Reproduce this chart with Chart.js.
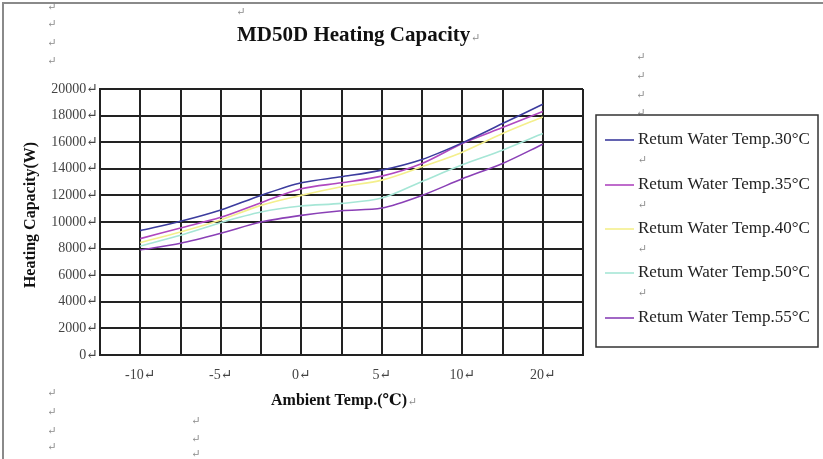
<!DOCTYPE html>
<html>
<head>
<meta charset="utf-8">
<script src="https://cdn.jsdelivr.net/npm/chart.js@4.4.1/dist/chart.umd.min.js"></script>
<style>
  html, body { margin: 0; padding: 0; background: #fff; }
  #wrap { position: relative; width: 823px; height: 459px; }
  canvas { display: block; }
</style>
</head>
<body>
<div id="wrap"><canvas id="c" width="823" height="459"></canvas></div>
<script>
// Ambient temperature points (one per vertical grid line)
const pointLabels = ['-10', '-7.5', '-5', '-2.5', '0', '2.5', '5', '7.5', '10', '15', '20'];
// Tick labels printed under the axis
const tickLabels = ['-10', '-5', '0', '5', '10', '20'];
const yTicks = [0, 2000, 4000, 6000, 8000, 10000, 12000, 14000, 16000, 18000, 20000];

const seriesNames = [
  'Retum Water Temp.30°C',
  'Retum Water Temp.35°C',
  'Retum Water Temp.40°C',
  'Retum Water Temp.50°C',
  'Retum Water Temp.55°C'
];
const water30 = [9350, 10050, 10900, 12000, 12950, 13400, 13900, 14700, 15950, 17400, 18850];
const water35 = [8750, 9550, 10350, 11450, 12500, 12950, 13450, 14400, 15900, 17100, 18300];
const water40 = [8450, 9250, 10150, 11250, 12000, 12650, 13150, 14150, 15250, 16650, 17900];
const water50 = [8200, 9000, 9950, 10750, 11200, 11400, 11800, 13050, 14300, 15400, 16650];
const water55 = [7900, 8400, 9150, 10000, 10500, 10850, 11050, 12000, 13250, 14400, 15850];

const seriesColors = ['#3c3c9e', '#b048c0', '#f4ef8c', '#a6e6d6', '#8a40b6'];
const seriesValues = [water30, water35, water40, water50, water55];

const labels = [''].concat(pointLabels, ['']);
const datasets = seriesValues.map((vals, i) => ({
  label: seriesNames[i],
  data: [null].concat(vals, [null]),
  borderColor: seriesColors[i],
  backgroundColor: seriesColors[i],
  borderWidth: 1.6,
  pointRadius: 0,
  tension: 0.3,
  fill: false
}));

const SERIF = '"Liberation Serif", "DejaVu Serif", serif';

const decor = {
  id: 'decor',
  afterDraw(chart) {
    const ctx = chart.ctx;
    ctx.save();
    // page frame
    ctx.strokeStyle = '#8a8a8a';
    ctx.lineWidth = 2;
    ctx.beginPath();
    ctx.moveTo(3, 459); ctx.lineTo(3, 3); ctx.lineTo(823, 3);
    ctx.stroke();

    // Title
    ctx.fillStyle = '#111';
    ctx.font = 'bold 21px ' + SERIF;
    ctx.textAlign = 'left';
    ctx.textBaseline = 'middle';
    ctx.fillText('MD50D Heating Capacity', 237, 36);
    const tw = ctx.measureText('MD50D Heating Capacity').width;
    ctx.font = '11px ' + SERIF;
    ctx.fillStyle = '#888';
    ctx.fillText('↵', 237 + tw + 1, 38);

    // Y axis title
    ctx.save();
    ctx.translate(31, 215);
    ctx.rotate(-Math.PI / 2);
    ctx.textAlign = 'center';
    ctx.fillStyle = '#111';
    ctx.font = 'bold 16px ' + SERIF;
    ctx.fillText('Heating Capacity(W)', 0, 0);
    ctx.restore();

    // X axis title
    ctx.textAlign = 'left';
    ctx.fillStyle = '#111';
    ctx.font = 'bold 16px ' + SERIF;
    const xt = 'Ambient Temp.(℃)';
    const xw = ctx.measureText(xt).width;
    const xs = 339 - xw / 2;
    ctx.fillText(xt, xs, 401);
    ctx.font = '11px ' + SERIF;
    ctx.fillStyle = '#888';
    ctx.fillText('↵', xs + xw + 1, 402);

    // stray paragraph marks
    ctx.textAlign = 'center';
    const marks = [[52, 7], [52, 24], [52, 43], [52, 61], [241, 12],
      [641, 57], [641, 76], [641, 95], [641, 113],
      [52, 393], [52, 412], [52, 431], [52, 447],
      [196, 421], [196, 439], [196, 454]];
    marks.forEach(m => ctx.fillText('↵', m[0], m[1]));

    // Legend box
    const lx = 596, ly = 115, lw = 222, lh = 232;
    ctx.strokeStyle = '#333';
    ctx.lineWidth = 1.5;
    ctx.strokeRect(lx, ly, lw, lh);
    const rows = [140, 185, 229, 273, 318];
    chart.data.datasets.forEach((ds, i) => {
      const y = rows[i];
      ctx.strokeStyle = ds.borderColor;
      ctx.lineWidth = 1.6;
      ctx.beginPath();
      ctx.moveTo(605, y); ctx.lineTo(634, y);
      ctx.stroke();
      ctx.fillStyle = '#222';
      ctx.font = '17px ' + SERIF;
      ctx.textAlign = 'left';
      ctx.fillText(ds.label, 638, y);
      if (i < rows.length - 1) {
        ctx.fillStyle = '#888';
        ctx.font = '11px ' + SERIF;
        ctx.fillText('↵', 638, (rows[i] + rows[i + 1]) / 2 - 2);
      }
    });
    ctx.restore();
  }
};

new Chart(document.getElementById('c'), {
  type: 'line',
  data: { labels: labels, datasets: datasets },
  options: {
    responsive: false,
    animation: false,
    layout: { padding: { left: 0, top: 89, right: 240, bottom: 0 } },
    plugins: { legend: { display: false }, tooltip: { enabled: false }, title: { display: false } },
    scales: {
      x: {
        type: 'category',
        offset: false,
        afterFit(s) { s.height = 104; },
        grid: { color: '#222', lineWidth: 2, drawTicks: false },
        border: { color: '#222', width: 2 },
        ticks: {
          autoSkip: false,
          maxRotation: 0,
          padding: 12,
          color: '#444',
          font: { family: SERIF, size: 14 },
          callback(v) {
            const l = this.getLabelForValue(v);
            return tickLabels.includes(l) ? l + '↵' : '';
          }
        }
      },
      y: {
        min: 0,
        max: 20000,
        afterFit(s) { s.width = 100; },
        afterBuildTicks(s) { s.ticks = yTicks.map(v => ({ value: v })); },
        grid: { color: '#222', lineWidth: 2, drawTicks: false },
        border: { color: '#222', width: 2 },
        ticks: {
          padding: 2,
          color: '#444',
          font: { family: SERIF, size: 14 },
          callback(v) { return v + '↵'; }
        }
      }
    }
  },
  plugins: [decor]
});
</script>
</body>
</html>
